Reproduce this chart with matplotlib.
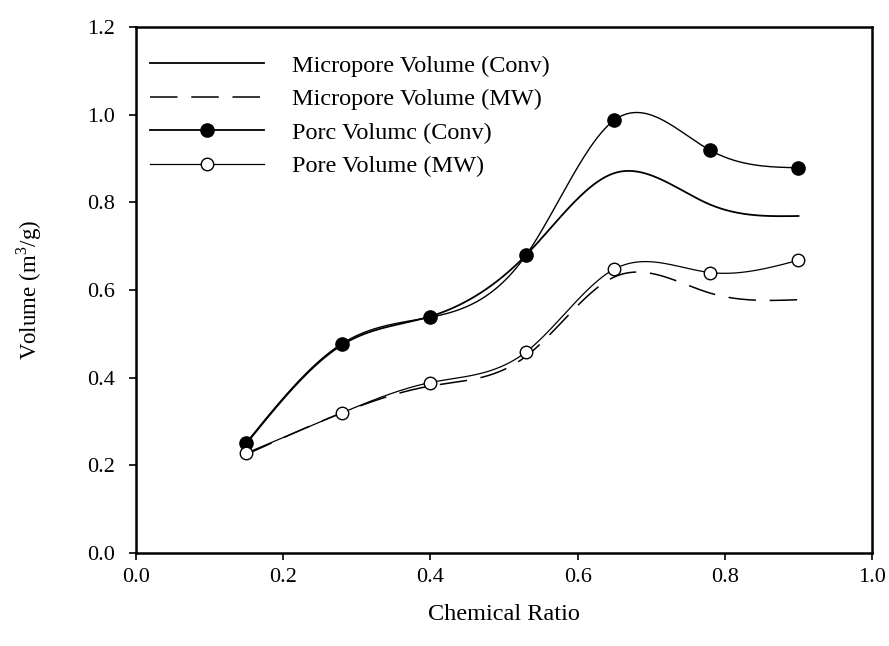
import numpy as np
import matplotlib
matplotlib.use('Agg')
import matplotlib.pyplot as plt

# chemical ratio and measured volumes (m3/g)
ratio = [0.15, 0.28, 0.40, 0.53, 0.65, 0.78, 0.90]
micro_conv = [0.250, 0.475, 0.540, 0.680, 0.867, 0.795, 0.769]
micro_mw = [0.225, 0.320, 0.381, 0.449, 0.630, 0.593, 0.578]
pore_conv = [0.252, 0.478, 0.538, 0.680, 0.988, 0.919, 0.879]
pore_mw = [0.228, 0.320, 0.389, 0.459, 0.648, 0.640, 0.668]

labels = ['Micropore Volume (Conv)', 'Micropore Volume (MW)',
          'Porc Volumc (Conv)', 'Pore Volume (MW)']


def spline(x, y, n=300):
    """Natural cubic spline through (x, y), sampled on n points."""
    x = np.asarray(x, float); y = np.asarray(y, float)
    k = len(x)
    h = np.diff(x)
    A = np.zeros((k, k)); r = np.zeros(k)
    A[0, 0] = A[-1, -1] = 1.0
    for i in range(1, k - 1):
        A[i, i - 1] = h[i - 1]
        A[i, i] = 2 * (h[i - 1] + h[i])
        A[i, i + 1] = h[i]
        r[i] = 3 * ((y[i + 1] - y[i]) / h[i] - (y[i] - y[i - 1]) / h[i - 1])
    c = np.linalg.solve(A, r)
    b = (y[1:] - y[:-1]) / h - h * (2 * c[:-1] + c[1:]) / 3
    d = (c[1:] - c[:-1]) / (3 * h)
    xs = np.linspace(x[0], x[-1], n)
    j = np.clip(np.searchsorted(x, xs) - 1, 0, k - 2)
    t = xs - x[j]
    ys = y[j] + b[j] * t + c[j] * t ** 2 + d[j] * t ** 3
    return xs, ys


plt.rcParams['font.family'] = ['Liberation Serif', 'DejaVu Serif']
plt.rcParams['mathtext.fontset'] = 'custom'
plt.rcParams['mathtext.rm'] = 'Liberation Serif'

fig = plt.figure(figsize=(8.89, 6.46), dpi=100)
ax = fig.add_axes([0.153, 0.144, 0.828, 0.814])

xs, ys = spline(ratio, micro_conv)
ax.plot(xs, ys, color='k', lw=1.3, label=labels[0])
xs, ys = spline(ratio, micro_mw)
ax.plot(xs, ys, color='k', lw=1.1, dashes=(18, 9), label=labels[1])
xs, ys = spline(ratio, pore_conv)
ax.plot(xs, ys, color='k', lw=1.0)
ax.plot(ratio, pore_conv, 'o', ms=9.5, mfc='k', mec='k', zorder=3)
xs, ys = spline(ratio, pore_mw)
ax.plot(xs, ys, color='k', lw=0.9)
ax.plot(ratio, pore_mw, 'o', ms=9, mfc='white', mec='k', mew=1.0, zorder=3)

# legend proxies carry the marker drawn at the middle of the handle
h3, = ax.plot([], [], color='k', lw=1.3, marker='o', ms=9.5, mfc='k', mec='k')
h4, = ax.plot([], [], color='k', lw=0.9, marker='o', ms=9, mfc='white', mec='k')
handles = ax.get_legend_handles_labels()[0][:2] + [h3, h4]
ax.legend(handles, labels, loc='upper left', frameon=False, fontsize=17.5,
          handlelength=4.7, handletextpad=1.15, labelspacing=0.47,
          bbox_to_anchor=(0.006, 0.966), borderaxespad=0)

ax.set_xlim(0, 1.0)
ax.set_ylim(0, 1.2)
ax.set_xticks(np.arange(0, 1.01, 0.2))
ax.set_yticks(np.arange(0, 1.21, 0.2))
ax.xaxis.set_major_formatter(matplotlib.ticker.FormatStrFormatter('%.1f'))
ax.yaxis.set_major_formatter(matplotlib.ticker.FormatStrFormatter('%.1f'))
ax.tick_params(direction='out', length=5, width=1.2, labelsize=16)
ax.tick_params(axis='x', pad=6)
ax.tick_params(axis='y', pad=10)
for sp in ax.spines.values():
    sp.set_linewidth(1.8)

ax.set_xlabel('Chemical Ratio', fontsize=17.5, labelpad=12)
ax.set_ylabel('Volume (m$^3$/g)', fontsize=16.5, labelpad=31)

fig.savefig('out.png', dpi=100)
plt.close(fig)
